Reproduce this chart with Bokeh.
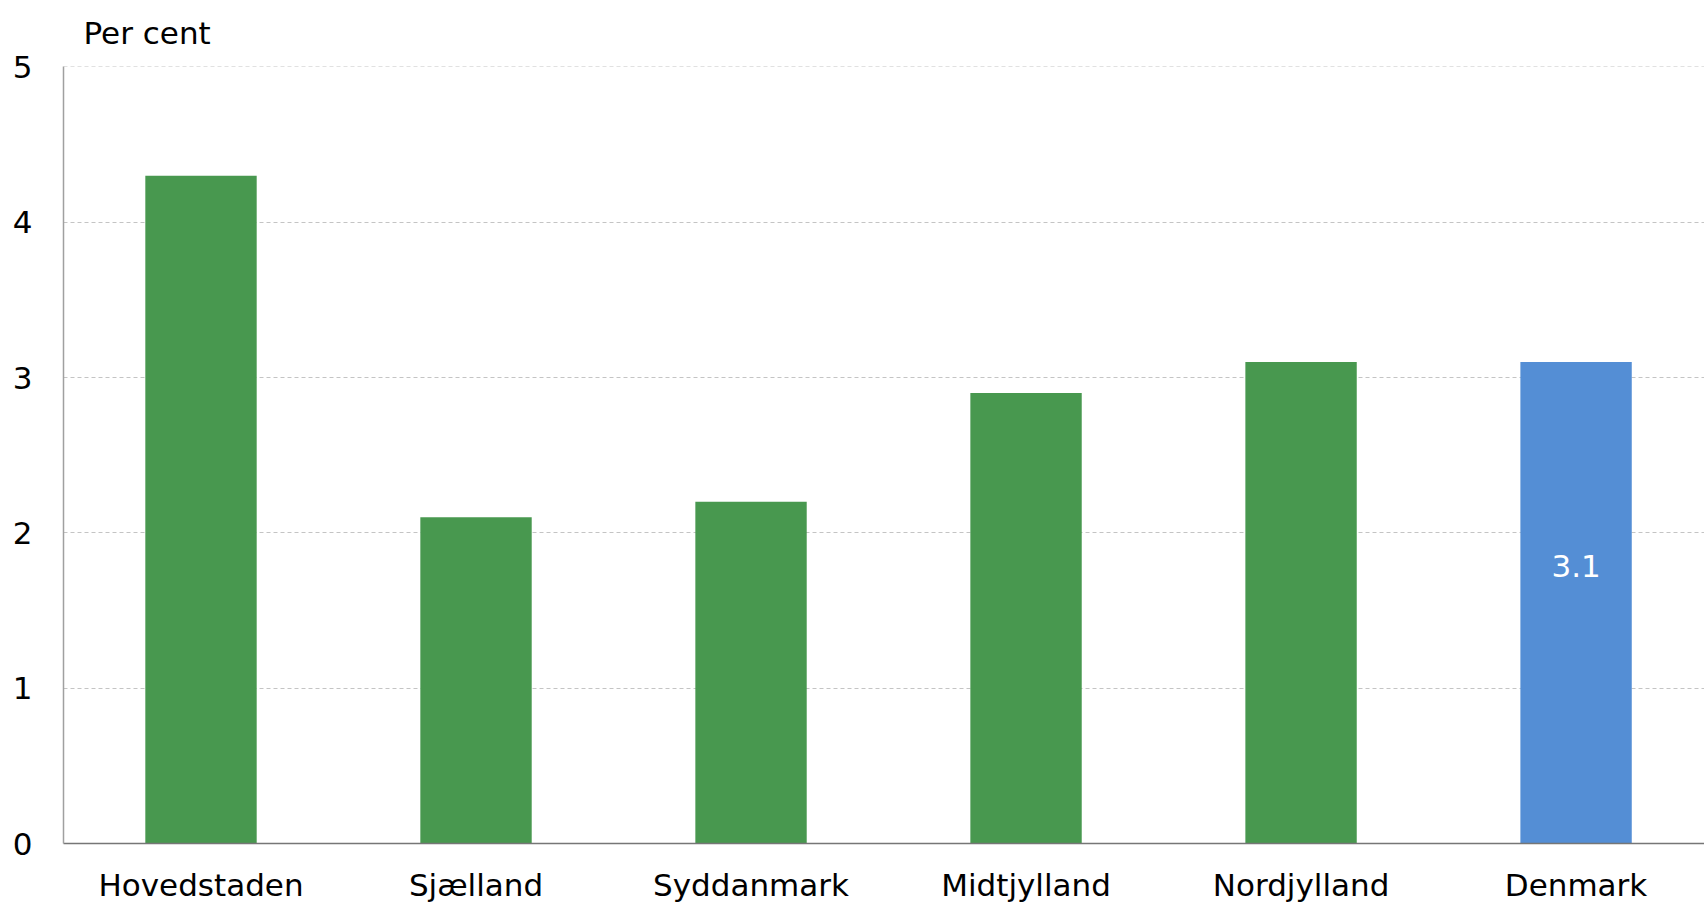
from bokeh.plotting import figure
from bokeh.models import Range1d, FixedTicker, ColumnDataSource, LabelSet
from bokeh.core.properties import value
from bokeh.embed import file_html
from bokeh.resources import INLINE

regions = ["Hovedstaden", "Sjælland", "Syddanmark", "Midtjylland", "Nordjylland", "Denmark"]
values = [4.3, 2.1, 2.2, 2.9, 3.1, 3.1]
colors = ["#48984f", "#48984f", "#48984f", "#48984f", "#48984f", "#548ed5"]
labels = ["", "", "", "", "", "3.1"]
y_ticks = [0, 1, 2, 3, 4, 5]

FONT = "DejaVu Sans"
FS = "31px"
xs = [i + 0.5 for i in range(len(regions))]
src = ColumnDataSource(dict(x=xs, top=values, color=colors, label=labels,
                            mid=[v / 2 for v in values]))

p = figure(width=1704, height=905, output_backend="svg", toolbar_location=None,
           x_range=Range1d(0, 5.967), y_range=Range1d(0, 5.003),
           min_border_left=63, min_border_right=0, min_border_bottom=59,
           min_border_top=66)
p.outline_line_color = None
p.background_fill_color = "white"
p.border_fill_color = "white"

p.title.text = "Per cent"
p.title.text_font = FONT
p.title.text_font_size = FS
p.title.text_font_style = "normal"
p.title.text_color = "#000000"
p.title.align = "left"
p.title.vertical_align = "top"
p.title.offset = 20
p.title.standoff = 27

p.vbar(x="x", top="top", width=0.405, bottom=0, color="color", source=src, line_color=None)

p.add_layout(LabelSet(x="x", y="mid", text="label", source=src, text_color="white",
                      text_font=value(FONT), text_font_size=FS, text_align="center",
                      text_baseline="middle", y_offset=37))

p.xaxis.ticker = FixedTicker(ticks=xs)
p.xaxis.major_label_overrides = {x: r for x, r in zip(xs, regions)}
p.xaxis.major_tick_line_color = None
p.xaxis.minor_tick_line_color = None
p.xaxis.major_tick_out = 0
p.xaxis.minor_tick_out = 0
p.xaxis.major_label_text_font = FONT
p.xaxis.major_label_text_font_size = FS
p.xaxis.major_label_text_color = "#000000"
p.xaxis.major_label_standoff = 23
p.xaxis.axis_line_color = "#767676"
p.xaxis.axis_line_width = 1.5

p.yaxis.ticker = FixedTicker(ticks=y_ticks)
p.yaxis.major_tick_line_color = None
p.yaxis.minor_tick_line_color = None
p.yaxis.major_tick_out = 0
p.yaxis.minor_tick_out = 0
p.yaxis.axis_line_color = "#a0a0a0"
p.yaxis.axis_line_width = 1.5
p.yaxis.major_label_text_font = FONT
p.yaxis.major_label_text_font_size = FS
p.yaxis.major_label_text_color = "#000000"
p.yaxis.major_label_standoff = 31

p.xgrid.grid_line_color = None
p.ygrid.ticker = FixedTicker(ticks=y_ticks)
p.ygrid.grid_line_color = "#c4c4c4"
p.ygrid.grid_line_dash = "4 3"
p.ygrid.grid_line_width = 1

open("out.html", "w").write(file_html(p, INLINE))
